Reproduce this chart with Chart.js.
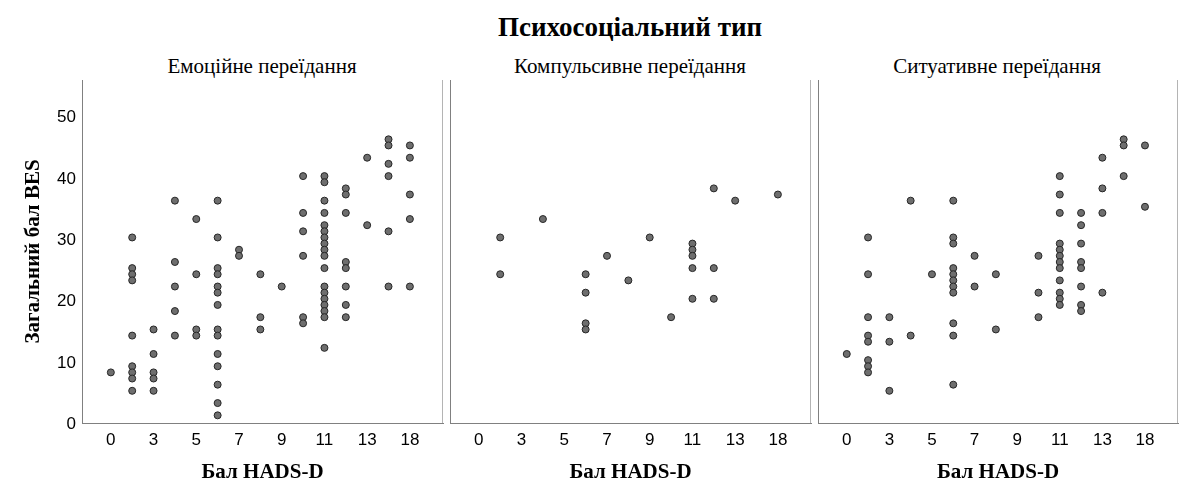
<!DOCTYPE html>
<html lang="uk">
<head>
<meta charset="utf-8">
<title>Психосоціальний тип</title>
<script src="https://cdn.jsdelivr.net/npm/chart.js@4.4.1/dist/chart.umd.min.js"></script>
<style>
  html, body { margin: 0; padding: 0; background: #fff; }
  #wrap { position: relative; width: 1190px; height: 501px; overflow: hidden; }
  .title {
    position: absolute;
    font-family: "Liberation Serif", "Times New Roman", serif;
    color: #000;
    white-space: nowrap;
    transform: translate(-50%, -50%);
  }
  .main { font-size: 27px; font-weight: bold; left: 630px; top: 27px; }
  .panel { font-size: 21px; top: 66px; }
  .box { position: absolute; top: 72px; height: 429px; }
</style>
</head>
<body>
<div id="wrap">
  <div class="title main">Психосоціальний тип</div>
  <div class="title panel" style="left:262px">Емоційне переїдання</div>
  <div class="title panel" style="left:630px">Компульсивне переїдання</div>
  <div class="title panel" style="left:997px">Ситуативне переїдання</div>

  <div class="box" style="left:0px;width:448px"><canvas id="emotional"></canvas></div>
  <div class="box" style="left:440px;width:376px"><canvas id="compulsive"></canvas></div>
  <div class="box" style="left:808px;width:375px"><canvas id="situational"></canvas></div>
</div>

<script>
// HADS-D categories in axis order (every other one gets a label)
const categories = ['0', '2', '3', '4', '5', '6', '7', '8', '9', '10', '11', '12', '13', '16', '18'];
const xTickLabels = ['0', '3', '5', '7', '9', '11', '13', '18'];
const yTicks = [0, 10, 20, 30, 40, 50];

// [HADS-D score, BES totals at that score]
const emotional = [
  ['0', [8]],
  ['2', [30, 25, 24, 23, 14, 9, 8, 7, 5]],
  ['3', [15, 11, 8, 7, 5]],
  ['4', [36, 26, 22, 18, 14]],
  ['5', [33, 24, 15, 14]],
  ['6', [36, 30, 25, 24, 22, 21, 19, 15, 14, 11, 9, 6, 3, 1]],
  ['7', [28, 27]],
  ['8', [24, 17, 15]],
  ['9', [22]],
  ['10', [40, 34, 31, 27, 17, 16]],
  ['11', [40, 39, 36, 34, 32, 31, 30, 29, 28, 27, 25, 22, 21, 20, 19, 18, 17, 12]],
  ['12', [38, 37, 34, 26, 25, 22, 19, 17]],
  ['13', [43, 32]],
  ['16', [46, 45, 42, 40, 31, 22]],
  ['18', [45, 43, 37, 33, 22]]
];

const compulsive = [
  ['2', [30, 24]],
  ['4', [33]],
  ['6', [24, 21, 16, 15]],
  ['7', [27]],
  ['8', [23]],
  ['9', [30]],
  ['10', [17]],
  ['11', [29, 28, 27, 25, 20]],
  ['12', [38, 25, 20]],
  ['13', [36]],
  ['18', [37]]
];

const situational = [
  ['0', [11]],
  ['2', [30, 24, 17, 14, 13, 10, 9, 8]],
  ['3', [17, 13, 5]],
  ['4', [36, 14]],
  ['5', [24]],
  ['6', [36, 30, 29, 25, 24, 23, 22, 21, 16, 14, 6]],
  ['7', [27, 22]],
  ['8', [24, 15]],
  ['10', [27, 21, 17]],
  ['11', [40, 37, 34, 29, 28, 27, 26, 25, 23, 21, 20, 19]],
  ['12', [34, 32, 29, 26, 25, 22, 19, 18]],
  ['13', [43, 38, 34, 21]],
  ['16', [46, 45, 40]],
  ['18', [45, 35]]
];

function toPoints(groups) {
  const pts = [];
  groups.forEach(([cat, ys]) => {
    const x = categories.indexOf(cat);
    ys.forEach(y => pts.push({ x: x, y: y }));
  });
  return pts;
}

// thin grey line closing each panel on the right
const rightEdge = {
  id: 'rightEdge',
  afterDraw(chart) {
    const { ctx, chartArea } = chart;
    ctx.save();
    ctx.strokeStyle = '#b4b4b4';
    ctx.lineWidth = 1;
    ctx.beginPath();
    ctx.moveTo(Math.round(chartArea.right) - 0.5, chartArea.top);
    ctx.lineTo(Math.round(chartArea.right) - 0.5, chartArea.bottom);
    ctx.stroke();
    ctx.restore();
  }
};

const tickFont = { family: 'Liberation Sans', size: 17 };
const axisTitleFont = { family: 'Liberation Serif', size: 21, weight: 'bold' };

// keep label overflow from shrinking the plot area
function noLabelPadding(axis) {
  axis.paddingTop = 0;
  axis.paddingBottom = 0;
  axis.paddingLeft = 0;
  axis.paddingRight = 0;
}

function makePanel(id, groups, first) {
  new Chart(document.getElementById(id), {
    type: 'scatter',
    data: {
      datasets: [{
        data: toPoints(groups),
        pointRadius: 3.5,
        pointBackgroundColor: '#6e6e6e',
        pointBorderColor: '#262626',
        pointBorderWidth: 1
      }]
    },
    options: {
      responsive: true,
      maintainAspectRatio: false,
      animation: false,
      layout: { padding: { top: 8, right: 2, left: 0, bottom: 0 } },
      plugins: {
        legend: { display: false },
        tooltip: { enabled: false }
      },
      scales: {
        x: {
          type: 'linear',
          min: -1.35,
          max: 15.55,
          afterBuildTicks: axis => {
            axis.ticks = xTickLabels.map(l => ({ value: categories.indexOf(l) }));
          },
          afterFit: axis => {
            axis.height = 78;
            noLabelPadding(axis);
          },
          grid: { display: false, drawTicks: false },
          border: { display: true, color: '#808080' },
          ticks: {
            padding: 7,
            color: '#000',
            font: tickFont,
            autoSkip: false,
            maxRotation: 0,
            callback: v => categories[v]
          },
          title: {
            display: true,
            text: 'Бал HADS-D',
            color: '#000',
            font: axisTitleFont,
            padding: { top: 0, bottom: 16 }
          }
        },
        y: {
          min: -0.25,
          max: 55.67,
          afterBuildTicks: axis => {
            axis.ticks = yTicks.map(v => ({ value: v }));
          },
          afterFit: axis => {
            axis.width = first ? 82 : 10;
            noLabelPadding(axis);
          },
          grid: { display: false, drawTicks: false },
          border: { display: true, color: '#808080' },
          ticks: {
            display: first,
            padding: 6,
            labelOffset: 3,
            color: '#000',
            font: tickFont
          },
          title: {
            display: first,
            text: 'Загальний бал BES',
            color: '#000',
            font: axisTitleFont,
            padding: { top: 21, bottom: 0 }
          }
        }
      }
    },
    plugins: [rightEdge]
  });
}

makePanel('emotional', emotional, true);
makePanel('compulsive', compulsive, false);
makePanel('situational', situational, false);
</script>
</body>
</html>
